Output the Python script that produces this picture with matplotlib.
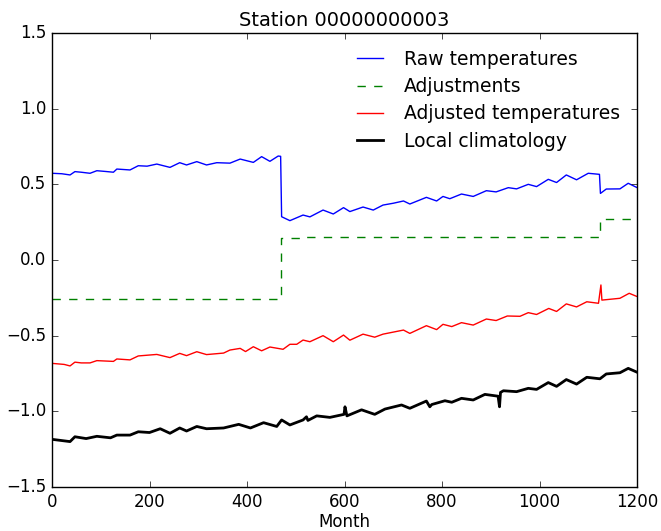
import matplotlib
matplotlib.use("Agg")
import matplotlib.pyplot as plt

raw_months = [0, 20, 37, 47, 60, 78, 92, 110, 126, 133, 160, 177, 195, 215, 242, 262,
              276, 297, 317, 338, 365, 386, 413, 430, 447, 464, 469, 471, 488, 515, 529,
              556, 577, 598, 611, 638, 659, 679, 700, 721, 734, 768, 789, 802, 816, 840,
              864, 891, 911, 936, 953, 977, 994, 1018, 1035, 1055, 1076, 1100, 1123, 1125,
              1137, 1165, 1182, 1199]
raw_values = [0.573, 0.57, 0.562, 0.584, 0.58, 0.573, 0.59, 0.585, 0.58, 0.601, 0.595,
              0.623, 0.62, 0.634, 0.612, 0.643, 0.628, 0.65, 0.628, 0.643, 0.64, 0.667,
              0.645, 0.683, 0.652, 0.687, 0.685, 0.286, 0.26, 0.297, 0.285, 0.33, 0.304,
              0.346, 0.32, 0.35, 0.33, 0.363, 0.375, 0.39, 0.37, 0.414, 0.39, 0.42, 0.405,
              0.436, 0.42, 0.458, 0.45, 0.478, 0.47, 0.5, 0.485, 0.533, 0.512, 0.562, 0.53,
              0.573, 0.566, 0.44, 0.469, 0.47, 0.507, 0.48]

adj_months = [0, 470, 515, 1125, 1200]
adj_values = [-0.258, 0.143, 0.152, 0.271, 0.271]

adjd_months = [0, 25, 37, 47, 60, 78, 92, 126, 133, 160, 177, 215, 242, 262, 276, 297,
               317, 352, 365, 386, 397, 413, 430, 447, 474, 488, 502, 515, 529, 556, 577,
               598, 611, 638, 662, 679, 721, 734, 768, 789, 802, 820, 840, 864, 891, 911,
               934, 960, 977, 994, 1019, 1035, 1055, 1076, 1097, 1121, 1126, 1128, 1165,
               1184, 1199]
adjd_values = [-0.683, -0.69, -0.70, -0.675, -0.68, -0.68, -0.665, -0.67, -0.654, -0.66,
               -0.634, -0.624, -0.645, -0.617, -0.632, -0.606, -0.625, -0.615, -0.595,
               -0.584, -0.605, -0.573, -0.60, -0.575, -0.59, -0.557, -0.557, -0.529,
               -0.54, -0.50, -0.54, -0.496, -0.53, -0.49, -0.51, -0.49, -0.463, -0.485,
               -0.434, -0.46, -0.425, -0.44, -0.414, -0.43, -0.39, -0.40, -0.37, -0.372,
               -0.348, -0.36, -0.32, -0.34, -0.29, -0.31, -0.276, -0.286, -0.165, -0.265,
               -0.253, -0.22, -0.24]

clim_months = [0, 37, 47, 70, 92, 120, 133, 160, 177, 200, 222, 242, 262, 276, 297, 317,
               352, 383, 407, 434, 461, 471, 488, 515, 522, 525, 543, 570, 599, 601, 605,
               635, 662, 683, 717, 734, 768, 775, 779, 806, 820, 840, 864, 888, 915, 918,
               920, 926, 953, 977, 994, 1018, 1035, 1055, 1076, 1097, 1124, 1137, 1165,
               1182, 1199]
clim_values = [-1.185, -1.20, -1.168, -1.18, -1.165, -1.175, -1.157, -1.157, -1.135,
               -1.14, -1.115, -1.145, -1.11, -1.13, -1.10, -1.115, -1.11, -1.086, -1.11,
               -1.075, -1.10, -1.057, -1.09, -1.057, -1.036, -1.06, -1.03, -1.04, -1.02,
               -0.97, -1.03, -0.99, -1.02, -0.985, -0.958, -0.98, -0.932, -0.97, -0.955,
               -0.93, -0.94, -0.914, -0.925, -0.888, -0.90, -0.97, -0.875, -0.864, -0.87,
               -0.848, -0.855, -0.81, -0.835, -0.79, -0.82, -0.775, -0.785, -0.753,
               -0.745, -0.716, -0.74]

title = "Station 00000000003"
xlabel = "Month"
labels = ["Raw temperatures", "Adjustments", "Adjusted temperatures", "Local climatology"]

plt.style.use("classic")
fig = plt.figure(figsize=(6.61, 5.31), dpi=100, facecolor="white")
ax = fig.add_axes([52 / 661, 1 - 487 / 531, 585 / 661, 454 / 531])

ax.plot(raw_months, raw_values, color="blue", lw=1, label=labels[0])
ax.plot(adj_months, adj_values, color="green", lw=1, ls="--", drawstyle="steps-post")
ax.plot(adjd_months, adjd_values, color="red", lw=1, label=labels[2])
ax.plot(clim_months, clim_values, color="black", lw=2, label=labels[3])

# plain dashed proxy for the legend handle
ax.plot([], [], color="green", lw=1, ls="--", label=labels[1])

ax.set_xlim(0, 1200)
ax.set_ylim(-1.5, 1.5)
ax.set_xticks([0, 200, 400, 600, 800, 1000, 1200])
ax.set_yticks([-1.5, -1.0, -0.5, 0.0, 0.5, 1.0, 1.5])
ax.set_xlabel(xlabel, fontsize=12, labelpad=2)
ax.set_title(title, fontsize=14)
ax.tick_params(labelsize=12)
handles, labs = ax.get_legend_handles_labels()
order = [labels.index(l) for l in labs]
handles = [h for _, h in sorted(zip(order, handles), key=lambda t: t[0])]
ax.legend(handles, labels, loc="upper right", frameon=False, fontsize=13.5,
          handlelength=2.0, handletextpad=0.8, labelspacing=0.44)

fig.savefig("out.png", dpi=100, facecolor="white")
